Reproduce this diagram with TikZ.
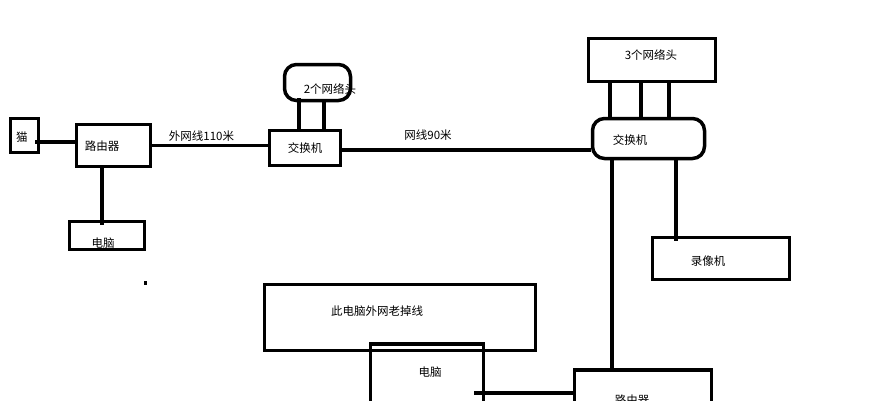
\documentclass[tikz,border=0pt]{standalone}
\usepackage{fontspec}
\newfontfamily\cjk{Noto Sans CJK SC}
\usetikzlibrary{calc}
\tikzset{
  box/.style={draw, line width=3.5pt, inner sep=0pt},
  rbox/.style={box, rounded corners=12pt},
  wire/.style={line width=3.5pt},
  lbl/.style={font=\cjk\fontsize{11.5}{13}\selectfont, inner sep=0pt}
}
\begin{document}
\begin{tikzpicture}[x=1pt,y=-1pt]
\useasboundingbox (0,0) rectangle (889,400);
\clip (0,0) rectangle (889,400);

%boxes left
\node[box, minimum width=28pt, minimum height=34pt] (cat) at (24.5,135.5) {};
\node[box, minimum width=74pt, minimum height=42pt] (router) at (113.5,145.5) {};
\node[box, minimum width=75pt, minimum height=28pt] (pc) at (107,235.5) {};

%switch and heads middle
\node[box, minimum width=71pt, minimum height=35pt] (sw) at (305,148) {};
\node[rbox, minimum width=66pt, minimum height=36pt] (heads) at (317.5,82.5) {};

%switch and heads right
\node[box, minimum width=127pt, minimum height=43pt] (headsb) at (652,60) {};
\node[rbox, minimum width=112pt, minimum height=40pt] (swb) at (648.5,138.5) {};
\node[box, minimum width=137pt, minimum height=42pt] (recorder) at (721,258.5) {};

%bottom boxes
\node[box, minimum width=271pt, minimum height=66pt] (note) at (400,317.5) {};
\node[box, minimum width=113pt, minimum height=76pt] (pcb) at (427,382) {};
\node[box, minimum width=137pt, minimum height=60pt] (routerb) at (643,400) {};

%box text
\node[lbl] (tcat) at (22,137) {猫};
\node[lbl] (trouter) at (102,146) {路由器};
\node[lbl] (tpc) at (103,243) {电脑};
\node[lbl] (tsw) at (305,148) {交换机};
\node[lbl] (theads) at (330,89) {2个网络头};
\node[lbl] (theadsb) at (651,55) {3个网络头};
\node[lbl] (tswb) at (630,140) {交换机};
\node[lbl] (trecorder) at (708,261) {录像机};
\node[lbl] (tnote) at (377,311) {此电脑外网老掉线};
\node[lbl] (tpcb) at (430,372) {电脑};
\node[lbl] (trouterb) at (632,400) {路由器};

%wire text
\node[lbl] (touter) at (201.5,136) {外网线110米};
\node[lbl] (tinner) at (428,135) {网线90米};

%wires
\coordinate (catout) at (35,142);
\coordinate (routerdown) at (102,168);
\coordinate (pcbout) at (474,393);
\draw[wire] (catout) -- (catout -| router.west);
\draw[wire] (router.east) -- (router.east -| sw.west);
\draw[wire] (routerdown) -- ($(pc.north)+(-5,5)$);
\draw[wire] ($(heads.south)+(-18.5,-4)$) -- ($(sw.north)+(-6,0)$);
\draw[wire] ($(heads.south)+(6.5,0)$) -- ($(sw.north)+(19,0)$);
\draw[wire] ($(sw.east)+(0,2)$) -- ($(sw.east -| swb.west)+(0,2)$);
\draw[wire] ($(headsb.south)+(-42,0)$) -- ($(swb.north)+(-38.5,0)$);
\draw[wire] ($(headsb.south)+(-11,0)$) -- ($(swb.north)+(-7.5,0)$);
\draw[wire] ($(headsb.south)+(17,0)$) -- ($(swb.north)+(20.5,0)$);
\draw[wire] ($(swb.south)+(-36.5,0)$) -- ($(routerb.north)+(-31,0)$);
\draw[wire] ($(swb.south)+(27.5,0)$) -- ($(recorder.north)+(-45,5)$);
\draw[wire] (pcbout) -- (pcbout -| routerb.west);

%dot
\fill (143.5,280.5) rectangle (146.5,284.5);
\end{tikzpicture}
\end{document}
